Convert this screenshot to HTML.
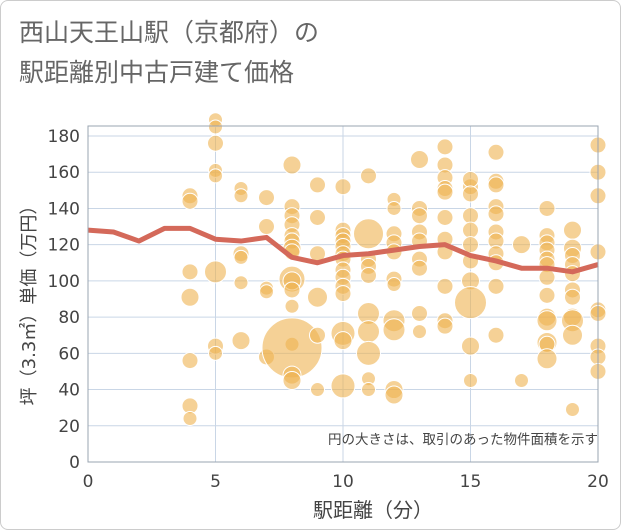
<!DOCTYPE html>
<html><head><meta charset="utf-8"><style>
body{margin:0;background:#fff;font-family:"Liberation Sans","Noto Sans CJK JP",sans-serif}
#wrap{position:relative;width:619px;height:528px;border:1px solid #ccc;border-radius:8px;overflow:hidden}
</style></head><body>
<div id="wrap">
<svg id="chart" width="621" height="530">
<text x="18" y="40" font-size="25" fill="#666" font-family="DejaVu Sans,Noto Sans CJK JP,sans-serif">西山天王山駅（京都府）の</text>
<text x="18" y="80" font-size="25" fill="#666" font-family="DejaVu Sans,Noto Sans CJK JP,sans-serif">駅距離別中古戸建て価格</text>
<g id="grid"></g><g id="bubbles"></g><g id="line"></g><g id="axes"></g>
<text x="597" y="443" font-size="13.5" fill="#444" text-anchor="end" font-family="DejaVu Sans,Noto Sans CJK JP,sans-serif">円の大きさは、取引のあった物件面積を示す</text>
<text x="372" y="516" font-size="20" fill="#444" text-anchor="middle" font-family="DejaVu Sans,Noto Sans CJK JP,sans-serif">駅距離（分）</text>
<text transform="translate(34,300) rotate(-90)" font-size="18" fill="#444" text-anchor="middle" font-family="DejaVu Sans,Noto Sans CJK JP,sans-serif">坪（3.3㎡）単価（万円）</text>
</svg></div>
<script>
const xTicks=[0,5,10,15,20];
const yTicks=[0,20,40,60,80,100,120,140,160,180];
const lineX=[0,1,2,3,4,5,6,7,8,9,10,11,12,13,14,15,16,17,18,19,20];
const lineY=[128,127,122,129,129,123,122,124,113,110,114,115,117,119,120,114,111,107,107,105,109];
const bx=[4,4,4,4,4,4,4,5,5,5,5,5,5,5,5,6,6,6,6,6,6,7,7,7,7,7,8,8,8,8,8,8,8,8,8,8,8,8,8,8,8,8,9,9,9,9,9,9,10,10,10,10,10,10,10,10,10,10,10,10,10,10,11,11,11,11,11,11,11,11,11,11,12,12,12,12,12,12,12,12,12,12,12,13,13,13,13,13,13,13,13,13,14,14,14,14,14,14,14,14,14,14,14,15,15,15,15,15,15,15,15,15,15,15,16,16,16,16,16,16,16,16,16,16,16,17,17,18,18,18,18,18,18,18,18,18,18,18,18,18,19,19,19,19,19,19,19,19,19,19,19,20,20,20,20,20,20,20,20,20];
const by=[147,144,105,91,56,31,24,189,185,176,161,158,105,64,60,151,147,115,113,99,67,146,130,96,94,58,164,141,136,131,125,122,118,116,101,100,95,86,65,63,48,45,153,135,115,91,70,40,152,128,125,122,119,115,112,106,102,97,93,71,67,42,158,126,112,108,103,82,72,60,46,40,145,140,126,121,116,101,98,78,73,40,37,167,140,136,127,122,112,107,82,72,174,164,157,151,149,135,123,116,97,78,75,152,156,148,136,128,120,111,100,88,64,45,171,155,153,141,137,127,122,115,110,97,70,120,45,140,125,121,117,112,109,102,92,80,78,66,65,57,128,118,114,109,104,95,91,80,78,70,29,175,160,147,116,84,82,64,58,50];
const bs=[8,8,8,9,8,8,7,7,7,8,7,7,11,8,7,7,7,8,7,7,9,8,8,7,7,8,9,8,8,8,8,8,9,8,13,9,8,7,7,30,9,9,8,8,8,10,8,7,8,8,8,8,8,8,8,8,8,8,8,12,9,12,8,15,8,8,8,11,11,12,7,7,7,7,8,8,8,8,7,11,11,9,9,9,8,8,8,8,8,8,8,7,8,8,8,8,8,8,8,8,8,8,8,8,8,8,8,8,8,8,9,16,9,7,8,8,8,8,8,8,8,8,8,8,8,9,7,8,8,8,8,8,8,8,8,9,10,10,8,10,9,9,8,8,8,8,8,9,11,10,7,8,8,8,8,8,8,8,8,8];
const X0=87,X1=597,Y0=461,Y1=135;
const sx=v=>X0+(v-0)/20*(X1-X0), sy=v=>Y0-(v-0)/180*(Y0-Y1);
const NS="http://www.w3.org/2000/svg";
function mk(t,a,p){const e=document.createElementNS(NS,t);for(const k in a)e.setAttribute(k,a[k]);p.appendChild(e);return e;}
const grid=document.getElementById('grid'),axes=document.getElementById('axes');
const TF="DejaVu Sans,sans-serif";
for(const t of yTicks){const g=mk('line',{x1:X0,x2:X1,y1:sy(t),y2:sy(t),stroke:'#c9d6e6','stroke-width':1},grid);


const l=mk('text',{x:X0-8,y:sy(t)+6,'font-size':17,fill:'#444','text-anchor':'end','font-family':TF},axes);l.textContent=t;

}
for(const t of xTicks){const g=mk('line',{x1:sx(t),x2:sx(t),y1:Y1-10,y2:Y0,stroke:'#c9d6e6','stroke-width':1},grid);


const l=mk('text',{x:sx(t),y:Y0+25,'font-size':17,fill:'#444','text-anchor':'middle','font-family':TF},axes);l.textContent=t;

}
const fr=mk('rect',{x:X0,y:Y1-10,width:X1-X0,height:Y0-Y1+10,fill:'none',stroke:'#9aa4b0','stroke-width':1},axes);


const bg=document.getElementById('bubbles');
for(let i=0;i<bx.length;i++){const c=mk('circle',{cx:sx(bx[i]),cy:sy(by[i]),r:bs[i],fill:'rgba(238,178,80,0.6)',stroke:'#fff','stroke-width':1},bg);

}
const p=mk('polyline',{points:lineX.map((x,i)=>sx(x)+','+sy(lineY[i])).join(' '),fill:'none',stroke:'#d4695a','stroke-width':5,'stroke-linejoin':'round'},document.getElementById('line'));


</script>
</body></html>
